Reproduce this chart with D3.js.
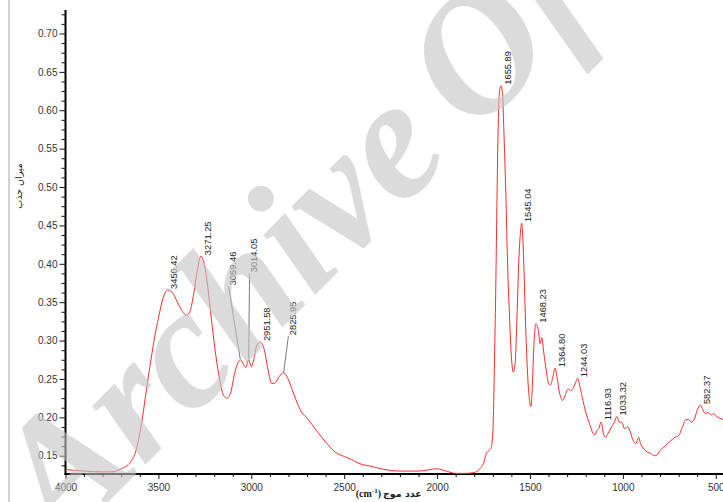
<!DOCTYPE html>
<html>
<head>
<meta charset="utf-8">
<script src="https://cdn.jsdelivr.net/npm/d3@7"></script>
<style>
  body { margin: 0; background: #fff; }
  svg { display: block; font-family: "Liberation Sans", Arial, sans-serif; }
</style>
</head>
<body>
<svg id="chart" width="723" height="502"></svg>
<script>
// --- spectrum ---
const wavenumber = [4000,3900,3800,3750,3700,3650,3620,3600,3580,3560,
  3540,3520,3500,3480,3460,3450,3420,3400,3370,3350,
  3330,3310,3290,3271,3250,3230,3210,3190,3170,3150,
  3130,3110,3090,3070,3059,3040,3030,3014,3000,2985,
  2970,2951,2930,2910,2890,2870,2850,2826,2800,2780,
  2760,2730,2700,2650,2600,2550,2500,2460,2420,2350,
  2300,2200,2100,2000,1950,1900,1850,1800,1770,1750,
  1735,1720,1710,1700,1695,1690,1685,1680,1675,1670,
  1665,1656,1648,1640,1630,1620,1610,1600,1590,1580,
  1570,1560,1550,1545,1538,1530,1520,1510,1500,1495,
  1488,1480,1468,1455,1445,1437,1425,1410,1400,1390,
  1378,1365,1355,1340,1325,1310,1295,1280,1265,1250,
  1244,1230,1215,1200,1180,1160,1150,1140,1130,1117,
  1105,1095,1080,1060,1045,1033,1020,1005,990,975,
  960,945,930,915,905,890,870,850,830,815,
  800,780,760,740,720,700,680,660,645,630,
  615,600,582,570,555,540,525,510,495,480,
  461];
const absorbance = [0.132,0.130,0.129,0.129,0.133,0.142,0.157,0.179,0.209,0.244,
  0.275,0.305,0.329,0.351,0.364,0.366,0.361,0.351,0.338,0.333,
  0.338,0.361,0.392,0.410,0.396,0.361,0.318,0.279,0.249,0.229,
  0.225,0.233,0.257,0.272,0.275,0.268,0.265,0.275,0.266,0.277,
  0.294,0.298,0.288,0.262,0.244,0.245,0.253,0.258,0.249,0.236,
  0.223,0.207,0.199,0.183,0.168,0.155,0.149,0.145,0.140,0.136,
  0.133,0.130,0.130,0.133,0.130,0.127,0.127,0.128,0.133,0.140,
  0.153,0.157,0.160,0.179,0.222,0.288,0.353,0.440,0.526,0.591,
  0.622,0.632,0.622,0.570,0.492,0.396,0.331,0.279,0.259,0.270,
  0.331,0.405,0.444,0.453,0.431,0.374,0.296,0.244,0.218,0.214,
  0.236,0.288,0.322,0.313,0.296,0.304,0.283,0.257,0.244,0.242,
  0.251,0.264,0.253,0.231,0.222,0.229,0.237,0.235,0.239,0.248,
  0.251,0.239,0.222,0.207,0.192,0.179,0.177,0.183,0.185,0.194,
  0.179,0.174,0.179,0.188,0.194,0.201,0.194,0.193,0.185,0.188,
  0.181,0.170,0.166,0.174,0.166,0.160,0.155,0.153,0.150,0.151,
  0.157,0.161,0.166,0.170,0.174,0.176,0.187,0.197,0.197,0.194,
  0.198,0.209,0.216,0.210,0.205,0.206,0.203,0.205,0.201,0.199,
  0.197];

// peaks labelled right on the peak
const peakLabels = ["3450.42","3271.25","2951.58","1655.89","1545.04","1468.23","1364.80","1244.03","1116.93","1033.32","582.37"];
const peakAbs    = [0.366, 0.410, 0.298, 0.632, 0.453, 0.322, 0.264, 0.251, 0.195, 0.201, 0.216];

// peaks labelled with a leader line
const leaderLabels  = ["3059.46","3014.05","2825.95"];
const leaderPeakAbs = [0.276, 0.276, 0.258];
const leaderTextWn  = [3098, 2985, 2776];
const leaderTextAbs = [0.372, 0.389, 0.307];

const xTicks = [4000,3500,3000,2500,2000,1500,1000,500];
const yTicks = [0.15,0.20,0.25,0.30,0.35,0.40,0.45,0.50,0.55,0.60,0.65,0.70];

const svg = d3.select("#chart");

const x = d3.scaleLinear().domain([4000, 461]).range([65.5, 723]);
const y = d3.scaleLinear().domain([0.1262, 0.7306]).range([474, 10]);

// page border on the left
svg.append("line").attr("x1", 9).attr("x2", 9).attr("y1", 0).attr("y2", 502)
  .attr("stroke", "#b4b4b4").attr("stroke-width", 1.2);

// minor ticks
const xMinor = d3.range(4000, 460, -100).filter(v => v % 500 !== 0);
const yMinor = d3.range(0.1375, 0.7306, 0.0125).filter(v => Math.abs(v * 20 - Math.round(v * 20)) > 1e-6);

const gx = svg.append("g").attr("transform", "translate(0,474)");
gx.call(d3.axisBottom(x).tickValues(xMinor).tickSize(3).tickFormat(""));
gx.call(g => g.select(".domain").remove());
const gx2 = svg.append("g").attr("transform", "translate(0,474)");
gx2.call(d3.axisBottom(x).tickValues(xTicks).tickSize(5).tickPadding(5).tickFormat(d3.format("d")));
gx2.select(".domain").remove();

const gy = svg.append("g").attr("transform", "translate(65.5,0)");
gy.call(d3.axisLeft(y).tickValues(yMinor).tickSize(4).tickFormat(""));
gy.select(".domain").remove();
const gy2 = svg.append("g").attr("transform", "translate(65.5,0)");
gy2.call(d3.axisLeft(y).tickValues(yTicks).tickSize(6).tickPadding(2).tickFormat(d3.format(".2f")));
gy2.select(".domain").remove();

svg.selectAll(".tick line").attr("stroke", "#111").attr("stroke-width", 1);
svg.selectAll(".tick text").attr("fill", "#333").style("font-size", "10px")
  .style("font-family", "'Liberation Sans', Arial, sans-serif");

// axis lines
svg.append("line").attr("x1", 65.5).attr("x2", 65.5).attr("y1", 10).attr("y2", 475)
  .attr("stroke", "#000").attr("stroke-width", 2);
svg.append("line").attr("x1", 64.5).attr("x2", 723).attr("y1", 474).attr("y2", 474)
  .attr("stroke", "#000").attr("stroke-width", 2);

// spectrum
const pts = wavenumber.map((w, i) => [w, absorbance[i]]);
const line = d3.line().x(d => x(d[0])).y(d => y(d[1])).curve(d3.curveMonotoneX);
svg.append("path").datum(pts).attr("d", line)
  .attr("fill", "none").attr("stroke", "#ff2a2a").attr("stroke-width", 1);

// peak labels
const labelG = svg.append("g").style("font-size", "9.3px").attr("fill", "#222");
peakLabels.forEach((t, i) => {
  const px = x(+t) + 6.5, py = y(peakAbs[i]) - 1;
  labelG.append("text")
    .attr("transform", `translate(${px},${py}) rotate(-90)`)
    .attr("dy", "0.35em").text(t);
});
leaderLabels.forEach((t, i) => {
  const tx = x(leaderTextWn[i]), ty = y(leaderTextAbs[i]);
  svg.append("line")
    .attr("x1", tx - 4.5).attr("y1", ty + 1)
    .attr("x2", x(+t)).attr("y2", y(leaderPeakAbs[i]))
    .attr("stroke", "#555").attr("stroke-width", 0.8);
  labelG.append("text")
    .attr("transform", `translate(${tx},${ty}) rotate(-90)`)
    .attr("dy", "0.35em").text(t);
});

// axis titles
svg.append("text")
  .attr("transform", "translate(22,186) rotate(-90)")
  .attr("text-anchor", "middle")
  .style("font-family", "'DejaVu Sans', sans-serif").style("font-size", "9.5px")
  .attr("fill", "#222").text("میزان جذب");

const xt = svg.append("text").attr("x", 381).attr("y", 497).attr("text-anchor", "end")
  .style("font-family", "'Liberation Serif', serif").style("font-weight", "bold")
  .style("font-size", "10px").attr("fill", "#222");
xt.append("tspan").text("(cm");
xt.append("tspan").attr("dy", -4).style("font-size", "7px").text("-1");
xt.append("tspan").attr("dy", 4).text(")");
svg.append("text").attr("x", 383).attr("y", 497)
  .style("font-family", "'DejaVu Sans', sans-serif").style("font-weight", "bold")
  .style("font-size", "9.5px").attr("fill", "#222").text("عدد موج");

// watermark (drawn over the chart)
svg.append("text")
  .attr("transform", "translate(62,548) rotate(-45)")
  .style("font-family", "'Liberation Serif', serif")
  .style("font-weight", "bold").style("font-style", "italic")
  .style("font-size", "172px").style("word-spacing", "-15px")
  .attr("fill", "#c4c4c4").attr("opacity", 0.6)
  .text("Archive Of SID");
</script>
</body>
</html>
